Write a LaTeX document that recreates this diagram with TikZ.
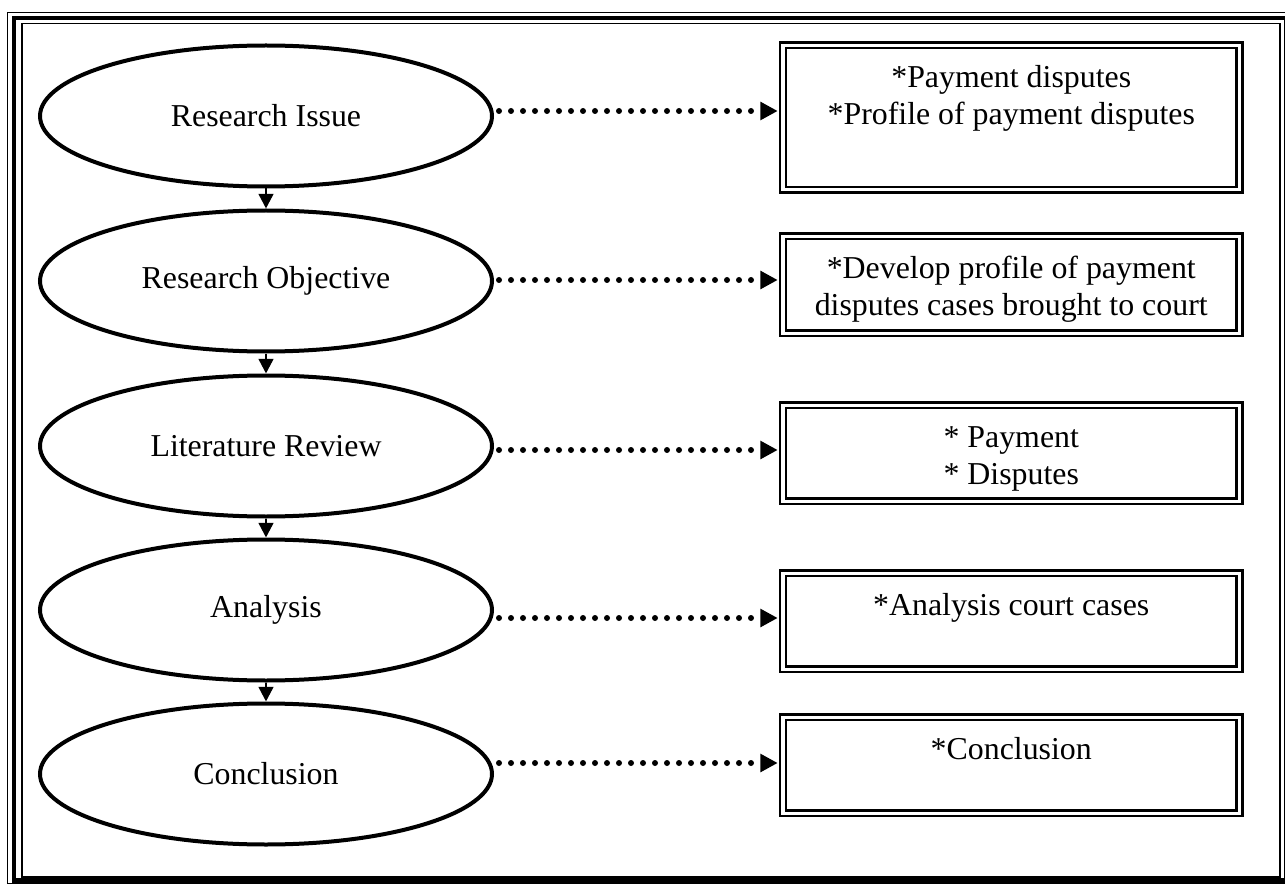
\documentclass[tikz,border=0pt]{standalone}
\usepackage{fontspec}
\setmainfont{Liberation Serif}
\usetikzlibrary{shapes.geometric,arrows.meta,calc}
\newcommand\boxtext[3]{\parbox[c][#1][t]{#2}{\centering\rule{0pt}{31.5pt}#3}}
\begin{document}
\begin{tikzpicture}[x=0.75pt,y=-0.75pt,
  txt/.style={font=\fontsize{23.9}{28.1}\selectfont},
  stage/.style={ellipse, draw, line width=3pt, minimum width=339pt,
    minimum height=105.75pt, inner sep=0pt, txt},
  infobox/.style={draw, double, line width=1.875pt, double distance=2.4pt,
    inner sep=0pt, anchor=north, txt},
  flow/.style={line width=1.875pt, -{Triangle[length=11pt,width=11pt]}},
  dotlink/.style={line width=4.5pt, line cap=round, dash pattern=on 0pt off 9pt,
    -{Triangle[length=13pt,width=13pt]}, shorten >=3pt},
  thinframe/.style={draw, line width=1.3pt},
  thickframe/.style={draw, line width=3.3pt}]
\useasboundingbox (0,0) rectangle (1285,884);
% triple frame
\draw[thinframe] (7.5,12.5) rectangle (1292,883.5);
\draw[thickframe] (14,18) rectangle (1286,880.5);
\draw[thinframe] (22,23.5) rectangle (1280,877);
% stages
\node[stage] (e1) at (266,116) {Research Issue};
\node[stage] (e2) at (266,281) {Research Objective};
\node[stage] (e3) at (266,446) {Literature Review};
\node[stage] (e4) at (266,610) {Analysis};
\node[stage] (e5) at (266,774) {Conclusion};
% boxes
\node[infobox] (b1) at (1011.25,44) {\boxtext{108.4pt}{342.4pt}{*Payment disputes\\{}*Profile of payment disputes}};
\node[infobox] (b2) at (1011.25,235) {\boxtext{72.75pt}{342.4pt}{*Develop profile of payment\\{}disputes cases brought to court}};
\node[infobox] (b3) at (1011.25,404) {\boxtext{72pt}{342.4pt}{* Payment\\{}* Disputes}};
\node[infobox] (b4) at (1011.25,572) {\boxtext{72pt}{342.4pt}{*Analysis court cases}};
\node[infobox] (b5) at (1011.25,716) {\boxtext{72pt}{342.4pt}{*Conclusion}};
% vertical flow
\draw[flow] (e1.south) -- (e2.north);
\draw[flow] (e2.south) -- (e3.north);
\draw[flow] (e3.south) -- (e4.north);
\draw[flow] (e4.south) -- (e5.north);
% dotted links
\coordinate (d1) at ($(e1.east)+(5,-5)$);
\coordinate (d2) at ($(e2.east)+(5,-1)$);
\coordinate (d3) at ($(e3.east)+(5,4)$);
\coordinate (d4) at ($(e4.east)+(5,8)$);
\coordinate (d5) at ($(e5.east)+(5,-11)$);
\draw[dotlink] (d1) -- (d1 -| b1.west);
\draw[dotlink] (d2) -- (d2 -| b2.west);
\draw[dotlink] (d3) -- (d3 -| b3.west);
\draw[dotlink] (d4) -- (d4 -| b4.west);
\draw[dotlink] (d5) -- (d5 -| b5.west);
\end{tikzpicture}
\end{document}
